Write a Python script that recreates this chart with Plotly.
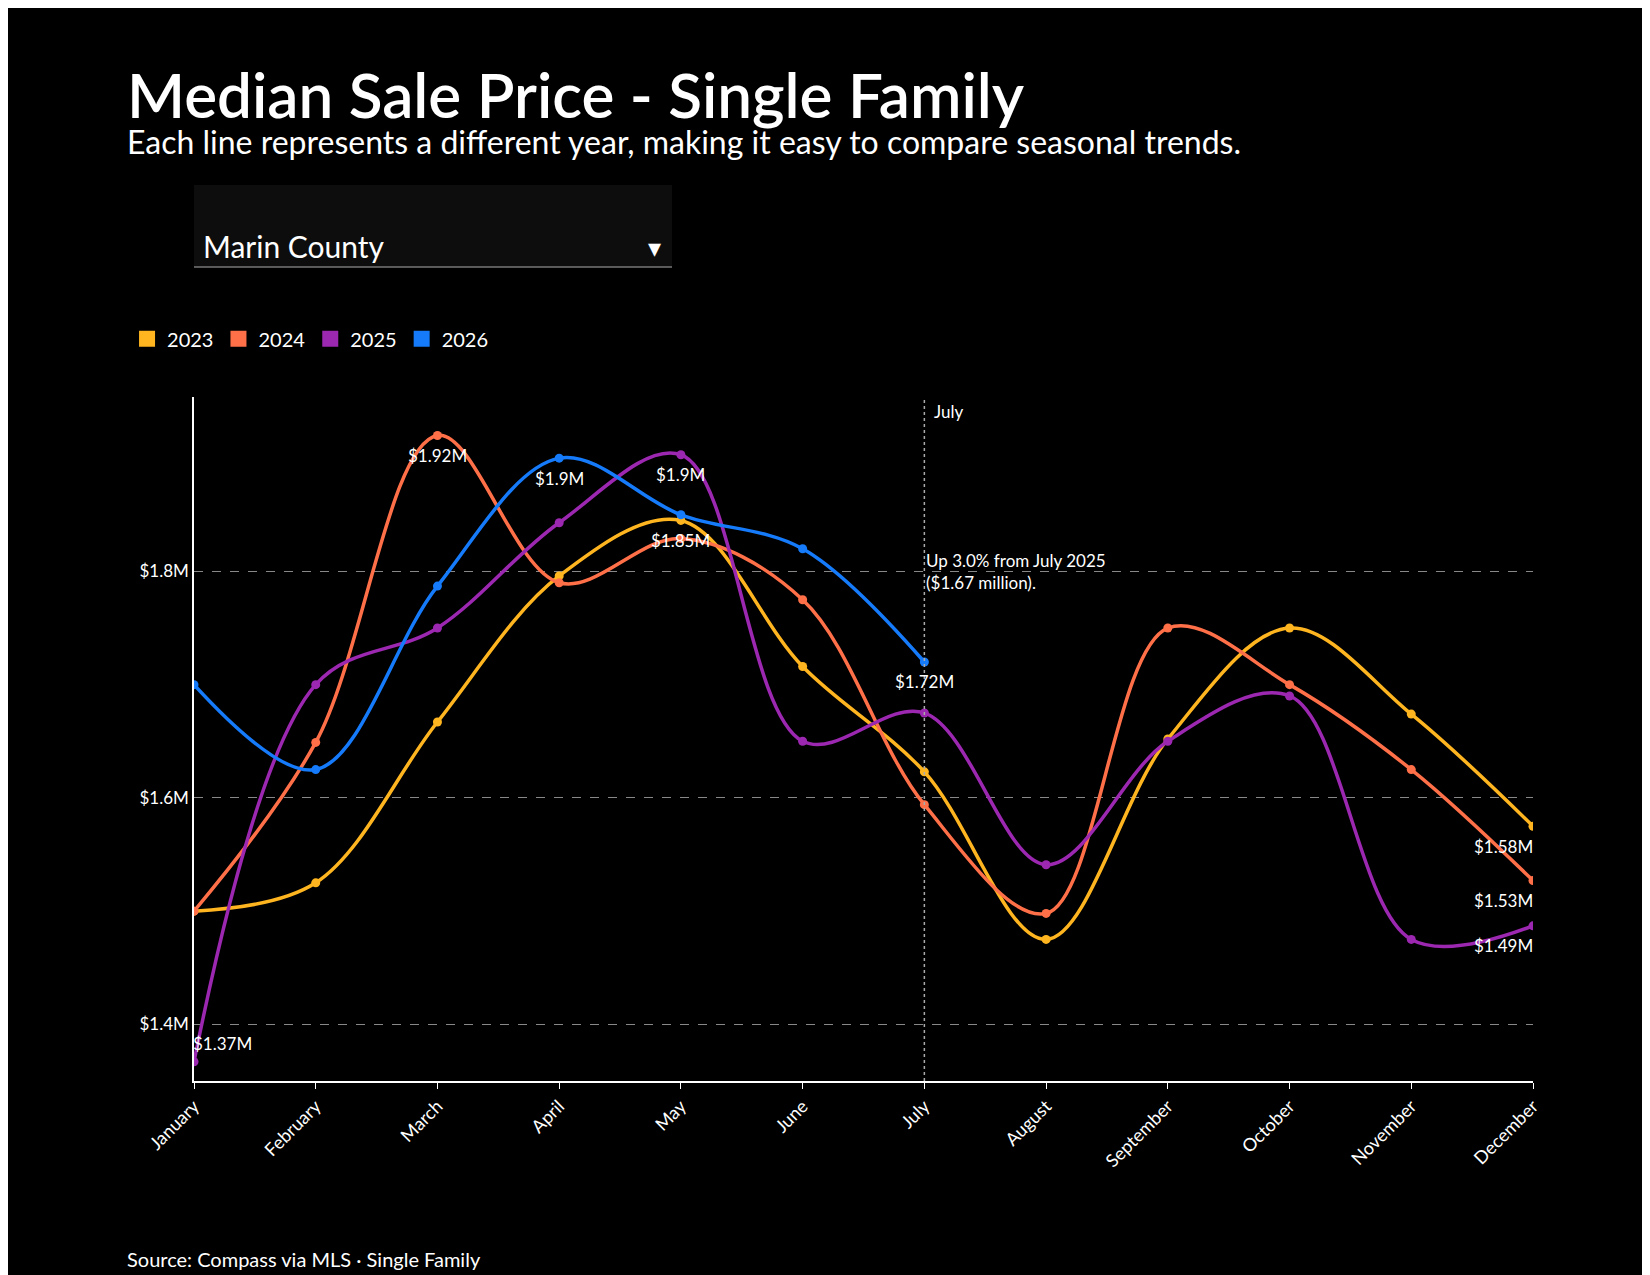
import plotly.graph_objects as go

months = ["January","February","March","April","May","June","July","August","September","October","November","December"]
y2023 = [1.50,1.525,1.667,1.796,1.845,1.716,1.623,1.475,1.652,1.75,1.674,1.575]
y2024 = [1.50,1.649,1.92,1.79,1.829,1.775,1.594,1.498,1.75,1.70,1.625,1.527]
y2025 = [1.367,1.70,1.75,1.843,1.903,1.65,1.675,1.541,1.65,1.69,1.475,1.487]
y2026 = [1.70,1.625,1.787,1.90,1.85,1.82,1.72]
years = ["2023","2024","2025","2026"]
colors = ["#FFB51F","#FF7049","#9C27B0","#157BFA"]
series = [y2023,y2024,y2025,y2026]

FONT = "Lato"
fig = go.Figure()
for name, ys, c in zip(years, series, colors):
    fig.add_trace(go.Scatter(x=months[:len(ys)], y=ys, mode="lines+markers",
        line=dict(color=c, width=3.5, shape="spline", smoothing=1.0),
        marker=dict(size=9, color=c), name=name, showlegend=False))
for name, c in zip(years, colors):
    fig.add_trace(go.Scatter(x=[None], y=[None], mode="markers", name=name,
        marker=dict(symbol="square", size=18, color=c)))

labels = [("March",1.92,"$1.92M",0,20),("April",1.90,"$1.9M",0,20),("May",1.903,"$1.9M",0,20),
          ("May",1.845,"$1.85M",0,20),("July",1.72,"$1.72M",0,20),("January",1.367,"$1.37M",28,-18),
          ("December",1.575,"$1.58M",-30,20),("December",1.527,"$1.53M",-30,20),("December",1.487,"$1.49M",-30,20)]
for x,y,t,ax,ay in labels:
    fig.add_annotation(x=x,y=y,text=t,showarrow=True,arrowcolor="rgba(0,0,0,0)",ax=ax,ay=ay,
        font=dict(color="white",size=17,family=FONT))

fig.add_vline(x=6, line=dict(color="#aaaaaa", dash="dot", width=1.5))
fig.add_annotation(x="July", y=1.0, yref="paper", text="July", showarrow=False, xanchor="left",
    xshift=8, yanchor="top", yshift=-2, font=dict(color="white", size=17, family=FONT))
fig.add_annotation(x="July", y=1.8, text="Up 3.0% from July 2025<br>($1.67 million).", showarrow=False,
    xanchor="left", yanchor="middle", align="left", font=dict(color="white", size=17, family=FONT))

fig.add_annotation(x=0, xref="paper", y=1.5, yref="paper", text="Median Sale Price - Single Family", showarrow=False,
    xanchor="left", xshift=-69, font=dict(color="white", size=62, family=FONT, weight=600))
fig.add_annotation(x=0, xref="paper", y=1.405, yref="paper", text="Each line represents a different year, making it easy to compare seasonal trends.",
    showarrow=False, xanchor="left", xshift=-69, font=dict(color="white", size=32, family=FONT))
fig.add_shape(type="rect", xref="paper", yref="paper", x0=0, x1=0.357, y0=1.19, y1=1.31,
    fillcolor="#0d0d0d", line=dict(width=0))
fig.add_shape(type="line", xref="paper", yref="paper", x0=0, x1=0.357, y0=1.19, y1=1.19,
    line=dict(color="#777", width=1.5))
fig.add_annotation(x=0.005, xref="paper", y=1.25, yref="paper", text="Marin County", showarrow=False,
    xanchor="left", font=dict(color="white", size=30, family=FONT))
fig.add_annotation(x=0.35, xref="paper", y=1.245, yref="paper", text="▾", showarrow=False,
    xanchor="right", font=dict(color="white", size=26, family=FONT))
fig.add_annotation(x=0, xref="paper", y=-0.24, yref="paper", text="Source: Compass via MLS · Single Family",
    showarrow=False, xanchor="left", xshift=-69, yanchor="top", font=dict(color="white", size=20, family=FONT))

fig.update_layout(width=1650, height=1275, paper_bgcolor="black", plot_bgcolor="black",
    margin=dict(l=186, r=125, t=389, b=202), font=dict(family=FONT, color="white"),
    legend=dict(orientation="h", x=-0.05, y=1.085, xanchor="left", yanchor="middle",
                font=dict(size=20, color="white", family=FONT), itemwidth=30, tracegroupgap=0,
                bgcolor="rgba(0,0,0,0)"),
    xaxis=dict(showgrid=False, showline=True, linecolor="white", linewidth=1.5, ticks="outside",
               tickcolor="white", ticklen=6, tickangle=-45, tickfont=dict(size=18), range=[0,11]),
    yaxis=dict(range=[1.35,1.954], tickvals=[1.4,1.6,1.8], ticktext=["$1.4M","$1.6M","$1.8M"],
               showgrid=True, gridcolor="#888", griddash="dash", gridwidth=1, showline=True,
               linecolor="white", linewidth=1.5, zeroline=False, tickfont=dict(size=17)))
fig.write_html("out.html")
